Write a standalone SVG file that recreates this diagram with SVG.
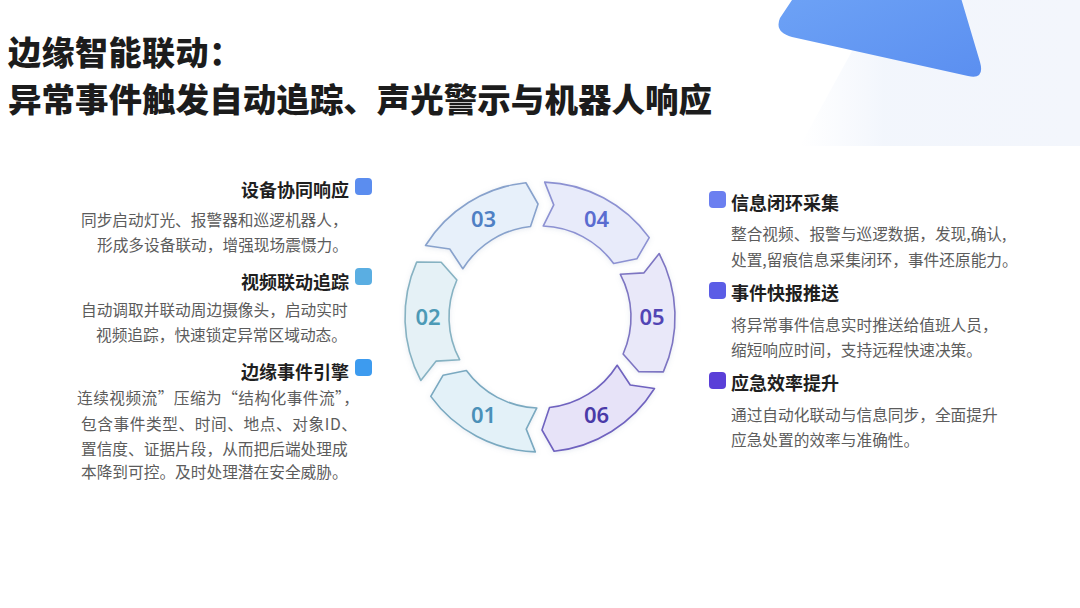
<svg xmlns="http://www.w3.org/2000/svg" width="1080" height="608" viewBox="0 0 1080 608">
<defs>
<linearGradient id="tint" x1="0" y1="0" x2="1" y2="0">
<stop offset="0" stop-color="#f2f6fd" stop-opacity="0"/>
<stop offset="0.3" stop-color="#f1f5fc" stop-opacity="0.9"/>
<stop offset="1" stop-color="#f3f6fc"/>
</linearGradient>
<linearGradient id="tri" x1="0" y1="0" x2="1" y2="1">
<stop offset="0" stop-color="#6ea3f6"/>
<stop offset="1" stop-color="#5b8ff0"/>
</linearGradient>
<linearGradient id="rule" x1="0" y1="0" x2="1" y2="0">
<stop offset="0" stop-color="#7f8aa8"/>
<stop offset="1" stop-color="#9aa6c4"/>
</linearGradient>
<filter id="glow" x="-20%" y="-20%" width="140%" height="140%">
<feDropShadow dx="0" dy="1" stdDeviation="2.5" flood-color="#8fa0c0" flood-opacity="0.22"/>
</filter>
<style>
.title{font-family:"Noto Sans CJK SC","Noto Sans",sans-serif;font-weight:900;font-size:33px;fill:#1c1c1c}
.hd{font-family:"Noto Sans CJK SC","Noto Sans",sans-serif;font-weight:700;font-size:18px;fill:#1f1f1f}
.bd{font-family:"Noto Sans CJK SC","Noto Sans",sans-serif;font-weight:400;font-size:15.7px;fill:#5c5c5c}
.num{font-family:"Noto Sans","Open Sans",sans-serif;font-weight:600;font-size:22px;text-anchor:middle}
.seg{stroke-width:1.6;stroke-linejoin:round;filter:url(#glow)}
</style>
</defs>
<rect width="1080" height="608" fill="#ffffff"/>
<!-- background top-right -->
<polygon points="880,0 1080,0 1080,146 800,146" fill="url(#tint)"/>
<path d="M800,-12 L958,-12 L980,62 Q985,80 968,76 L792,37 Q774,32 780,18 Z" fill="url(#tri)"/>
<!-- title -->
<g id="title">
<text class="title" x="8" y="65" letter-spacing="0.5">边缘智能联动：</text>
<text class="title" x="8" y="112" textLength="704" lengthAdjust="spacingAndGlyphs">异常事件触发自动追踪、声光警示与机器人响应</text>
</g>
<line x1="5" y1="146" x2="1073" y2="146" stroke="url(#rule)" stroke-width="1.6"/>
<g id="connectors"/>
<!-- ring segments -->
<g id="seg01">
<path class="seg" fill="#e3f1f8" stroke="#7aa9c0" d="M535.29,451.92 A135,135 0 0 1 430.78,396.35 L443.14,375.20 L466.38,370.49 A91,91 0 0 0 536.82,407.94 L526.23,429.16 Z"/>
<text class="num" x="483.5" y="423" fill="#4a90b8">01</text>
</g>
<g id="seg02">
<path class="seg" fill="#e5f1f6" stroke="#86b2c2" d="M420.80,380.38 A135,135 0 0 1 416.67,262.09 L441.17,262.22 L456.87,279.99 A91,91 0 0 0 459.65,359.72 L435.98,361.15 Z"/>
<text class="num" x="428" y="325" fill="#4d9ab6">02</text>
</g>
<g id="seg03">
<path class="seg" fill="#e7f0fa" stroke="#88a2cc" d="M425.51,245.46 A135,135 0 0 1 525.89,182.74 L538.03,204.02 L530.49,226.50 A91,91 0 0 0 462.83,268.78 L449.75,248.99 Z"/>
<text class="num" x="483.5" y="227" fill="#4f80c4">03</text>
</g>
<g id="seg04">
<path class="seg" fill="#e8ebfa" stroke="#8c91d2" d="M544.71,182.08 A135,135 0 0 1 649.22,237.65 L636.86,258.80 L613.62,263.51 A91,91 0 0 0 543.18,226.06 L553.77,204.84 Z"/>
<text class="num" x="596.5" y="227" fill="#5a6cd0">04</text>
</g>
<g id="seg05">
<path class="seg" fill="#e9e8f9" stroke="#7d74c2" d="M659.20,253.62 A135,135 0 0 1 663.33,371.91 L638.83,371.78 L623.13,354.01 A91,91 0 0 0 620.35,274.28 L644.02,272.85 Z"/>
<text class="num" x="652" y="325" fill="#5245b5">05</text>
</g>
<g id="seg06">
<path class="seg" fill="#e7e3f8" stroke="#6f62bf" d="M654.49,388.54 A135,135 0 0 1 554.11,451.26 L541.97,429.98 L549.51,407.50 A91,91 0 0 0 617.17,365.22 L630.25,385.01 Z"/>
<text class="num" x="596.5" y="423" fill="#4a3aa8">06</text>
</g>
<!-- left blocks -->
<g id="left1">
<rect x="355" y="178" width="17" height="17" rx="4" fill="#5b8def"/>
<text class="hd" x="349" y="197" text-anchor="end">设备协同响应</text>
<text class="bd" x="81" y="226">同步启动灯光、报警器和巡逻机器人，</text>
<text class="bd" x="97" y="251">形成多设备联动，增强现场震慑力。</text>
</g>
<g id="left2">
<rect x="355" y="268" width="17" height="17" rx="4" fill="#5aaee2"/>
<text class="hd" x="349" y="289" text-anchor="end">视频联动追踪</text>
<text class="bd" x="81" y="316">自动调取并联动周边摄像头，启动实时</text>
<text class="bd" x="96" y="341">视频追踪，快速锁定异常区域动态。</text>
</g>
<g id="left3">
<rect x="355" y="359" width="17" height="17" rx="4" fill="#3d9bef"/>
<text class="hd" x="349" y="379" text-anchor="end">边缘事件引擎</text>
<text class="bd" x="77" y="404" textLength="282" lengthAdjust="spacing">连续视频流”压缩为“结构化事件流”，</text>
<text class="bd" x="81" y="430" textLength="276" lengthAdjust="spacing">包含事件类型、时间、地点、对象ID、</text>
<text class="bd" x="81" y="455">置信度、证据片段，从而把后端处理成</text>
<text class="bd" x="81" y="478">本降到可控。及时处理潜在安全威胁。</text>
</g>
<!-- right blocks -->
<g id="right1">
<rect x="709" y="191" width="17" height="17" rx="4" fill="#6b7ff0"/>
<text class="hd" x="731" y="210">信息闭环采集</text>
<text class="bd" x="731" y="240">整合视频、报警与巡逻数据，发现,确认,</text>
<text class="bd" x="731" y="266">处置,留痕信息采集闭环，事件还原能力。</text>
</g>
<g id="right2">
<rect x="709" y="282" width="17" height="17" rx="4" fill="#5b5de6"/>
<text class="hd" x="731" y="300">事件快报推送</text>
<text class="bd" x="731" y="331">将异常事件信息实时推送给值班人员，</text>
<text class="bd" x="731" y="356">缩短响应时间，支持远程快速决策。</text>
</g>
<g id="right3">
<rect x="709" y="372" width="17" height="17" rx="4" fill="#5a3fd8"/>
<text class="hd" x="731" y="390">应急效率提升</text>
<text class="bd" x="731" y="421">通过自动化联动与信息同步，全面提升</text>
<text class="bd" x="731" y="446">应急处置的效率与准确性。</text>
</g>
</svg>
